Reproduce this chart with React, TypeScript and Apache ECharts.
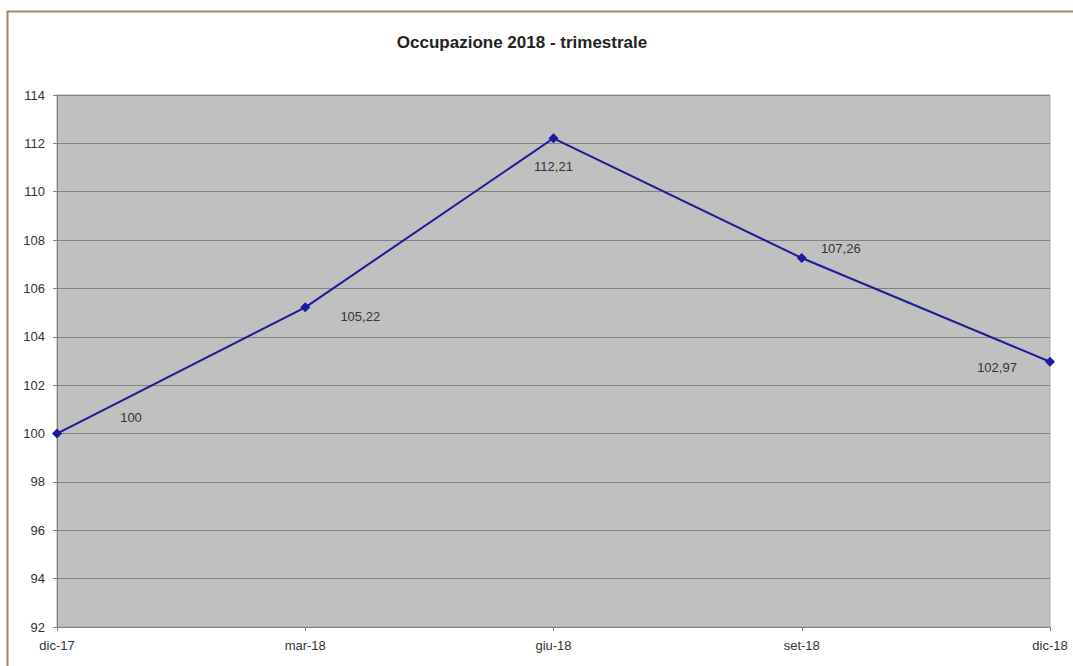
import React, { useEffect, useRef } from "react";
import * as echarts from "echarts";

const categories = ["dic-17", "mar-18", "giu-18", "set-18", "dic-18"];
const values = [100, 105.22, 112.21, 107.26, 102.97];
const labelOffsets: [number, number][] = [
  [74, -16],
  [55, 9],
  [0, 28],
  [39, -9],
  [-53, 6],
];
const titleText = "Occupazione 2018 - trimestrale";

export default function App() {
  const ref = useRef<HTMLDivElement>(null);
  useEffect(() => {
    if (!ref.current) return;
    const chart = echarts.init(ref.current, null, { renderer: "svg" });
    const font = "Liberation Sans, Arial, sans-serif";
    chart.setOption({
      animation: false,
      backgroundColor: "#ffffff",
      title: {
        text: titleText,
        left: 517,
        top: 29,
        textAlign: "center",
        textStyle: { fontFamily: font, fontSize: 17, fontWeight: "bold", color: "#222" },
      },
      graphic: [
        { type: "line", shape: { x1: 7, y1: 11.5, x2: 1073, y2: 11.5 }, style: { stroke: "#a8846e", lineWidth: 2 } },
        { type: "line", shape: { x1: 7.5, y1: 11, x2: 7.5, y2: 666 }, style: { stroke: "#a8846e", lineWidth: 2 } },
      ],
      grid: {
        left: 57,
        right: 23,
        top: 95,
        bottom: 39,
        show: true,
        backgroundColor: "#c0c0c0",
        borderColor: "#a8a8a8",
        borderWidth: 1,
      },
      xAxis: {
        type: "category",
        data: categories,
        boundaryGap: false,
        axisLine: { lineStyle: { color: "#808080", width: 1 } },
        axisTick: { show: true, length: 4, lineStyle: { color: "#808080" } },
        axisLabel: { fontFamily: font, fontSize: 13, color: "#333", margin: 12 },
        splitLine: { show: false },
      },
      yAxis: {
        type: "value",
        min: 92,
        max: 114,
        interval: 2,
        axisLine: { show: true, lineStyle: { color: "#808080", width: 1 } },
        axisTick: { show: true, length: 4, lineStyle: { color: "#808080" } },
        axisLabel: { fontFamily: font, fontSize: 13, color: "#333", margin: 12 },
        splitLine: { show: true, lineStyle: { color: "#808080", width: 1 } },
      },
      series: [
        {
          type: "line",
          data: values.map((v, i) => ({
            value: v,
            label: { offset: labelOffsets[i] },
          })),
          symbol: "diamond",
          symbolSize: 10,
          lineStyle: { color: "#1a1a9a", width: 2 },
          itemStyle: { color: "#1a1a9a" },
          label: {
            show: true,
            position: "inside",
            fontFamily: font,
            fontSize: 13,
            color: "#333",
            formatter: (p: any) => String(p.value).replace(".", ","),
          },
        },
      ],
    });
    return () => chart.dispose();
  }, []);
  return (
    <div
      ref={ref}
      style={{ position: "absolute", left: 0, top: 0, width: 1073, height: 666 }}
    />
  );
}
